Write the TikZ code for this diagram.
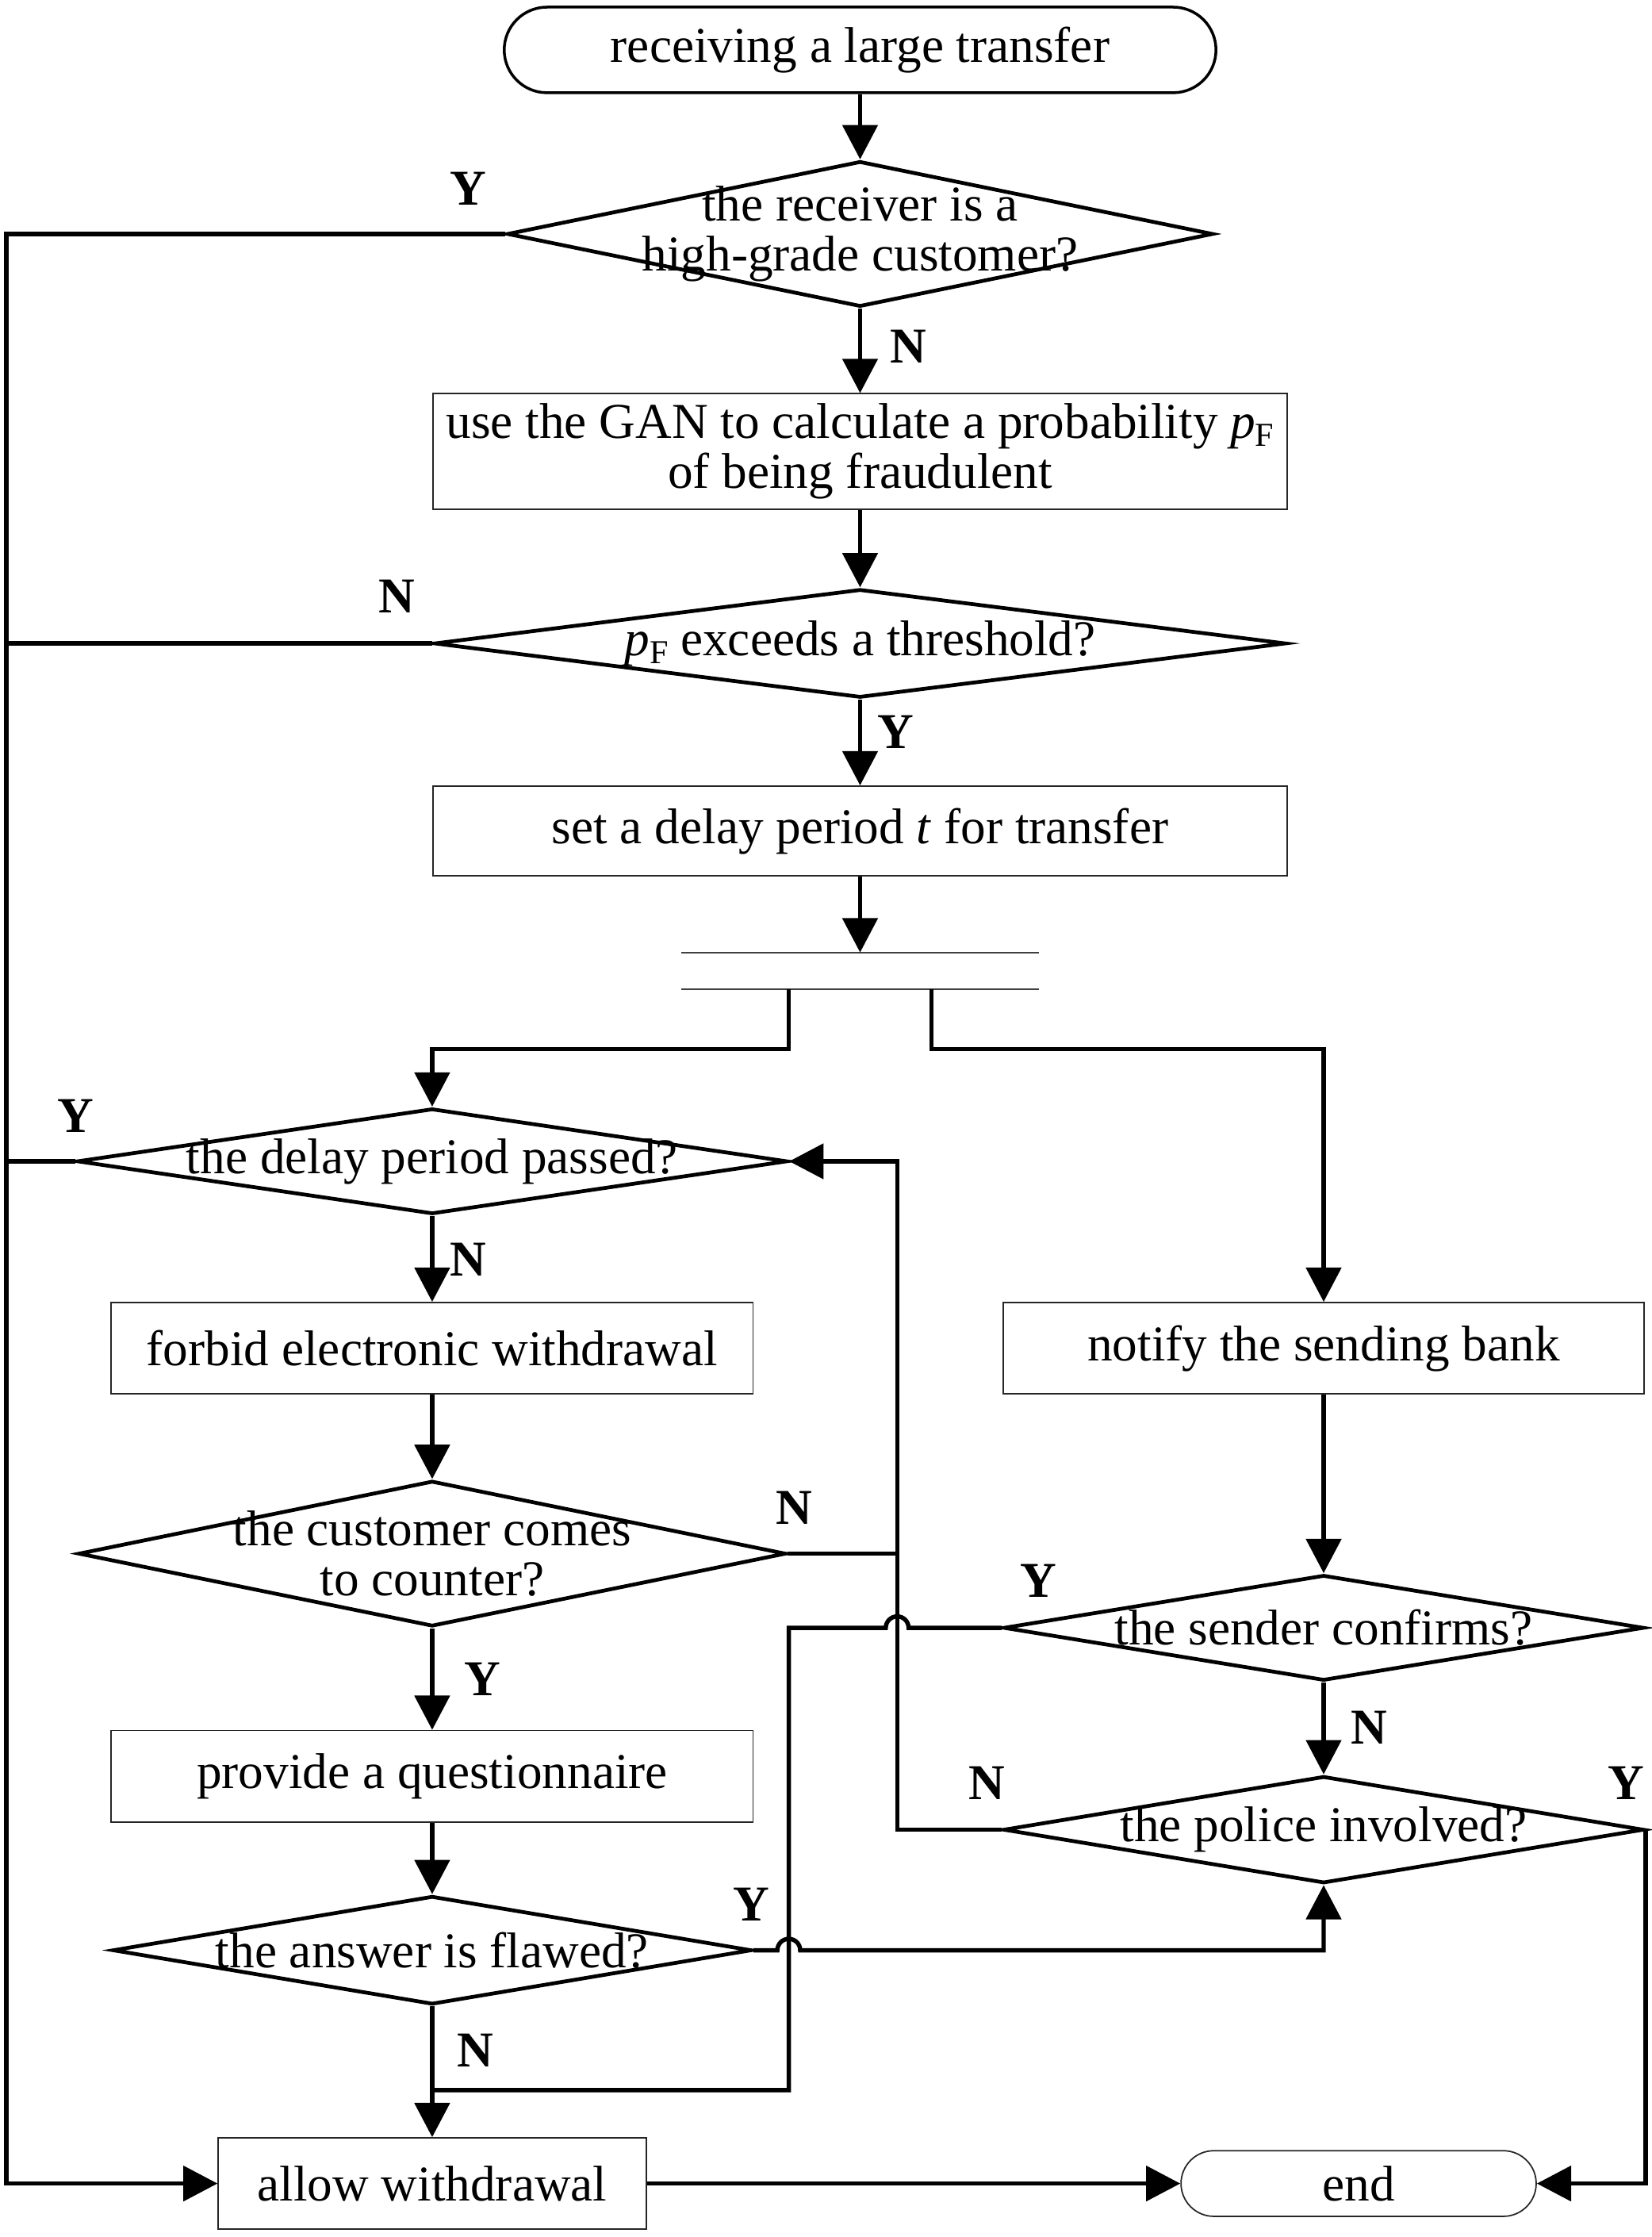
\documentclass[tikz,border=0pt]{standalone}
\usepackage{fontspec}
\setmainfont{Liberation Serif}
\usetikzlibrary{shapes.geometric,shapes.misc,arrows.meta,calc}
\def\U{0.017988cm}
\newcommand{\pF}{\textit{p}\raisebox{-0.35ex}{\fontsize{12}{12}\selectfont F}}
\tikzset{
  every node/.style={font=\fontsize{18}{18}\selectfont},
  sz/.style 2 args={minimum width=#1*\U, minimum height=#2*\U},
  dia/.style={draw, shape=diamond, line width=1.35pt, inner sep=0pt},
  proc/.style={draw=black!85, line width=0.5pt, rectangle, inner sep=0pt, align=center},
  term/.style={draw, rounded rectangle, inner sep=0pt},
  txt/.style={inner sep=0pt, align=center},
  conn/.style={line width=1.55pt},
  arr/.style={conn, -{Triangle[length=12.3pt,width=12.5pt]}},
  lab/.style={font=\fontsize{18}{18}\selectfont\bfseries, inner sep=0pt},
  bar/.style={draw=black!75, line width=0.5pt},
}
\begin{document}
\begin{tikzpicture}[x=0.017988cm, y=-0.017988cm]
\useasboundingbox (0,0) rectangle (1158,1568);

% top column
\node[term, line width=1pt, sz={499}{60}] (start) at (603,35) {receiving a large transfer};
\node[dia, sz={495}{102}] (d1) at (603,164) {};
\node[txt] (t1) at (d1) {the receiver is a\\high-grade customer?};
\node[proc, sz={599}{81}] (b1) at (603,316.5) {use the GAN to calculate a probability \pF\\of being fraudulent};
\node[dia, sz={597}{76}] (d2) at (603,451) {};
\node[txt] (t2) at (d2) {\pF{} exceeds a threshold?};
\node[proc, sz={599}{63}] (b2) at (603,582.5) {set a delay period \textit{t} for transfer};
\node[inner sep=0pt, sz={250}{25}] (fork) at (603,680.5) {};
\draw[bar] (fork.north west) -- (fork.north east);
\draw[bar] (fork.south west) -- (fork.south east);

% left column
\node[dia, sz={498}{74}] (d3) at (303,814) {};
\node[txt] (t3) at (d3) {the delay period passed?};
\node[proc, sz={450}{64}] (b3) at (303,945) {forbid electronic withdrawal};
\node[dia, sz={496}{102}] (d4) at (303,1089) {};
\node[txt] (t4) at (d4) {the customer comes\\to counter?};
\node[proc, sz={450}{64}] (b4) at (303,1245) {provide a questionnaire};
\node[dia, sz={448}{76}] (d5) at (303,1367) {};
\node[txt] (t5) at (d5) {the answer is flawed?};
\node[proc, sz={300}{64}] (allow) at (303,1530.5) {allow withdrawal};

% right column
\node[proc, sz={449}{64}] (nb) at (928,945) {notify the sending bank};
\node[dia, sz={449}{74}] (d6) at (928,1141) {};
\node[txt] (t6) at (d6) {the sender confirms?};
\node[dia, sz={449}{75}] (d7) at (928,1282.5) {};
\node[txt] (t7) at (d7) {the police involved?};
\node[term, line width=0.5pt, draw=black!85, sz={249}{46}] (fin) at (952.5,1530.5) {end};

% rails and junctions
\coordinate (L) at (4.5,0);
\coordinate (R) at (629,0);
\coordinate (S) at (553,0);
\coordinate (J) at (303,1465);
\coordinate (hop1) at (629,1141);
\coordinate (hop2) at (553,1367);

% straight arrows
\draw[arr] (start.south) -- (d1.north);
\draw[arr] (d1.south) -- (b1.north);
\draw[arr] (b1.south) -- (d2.north);
\draw[arr] (d2.south) -- (b2.north);
\draw[arr] (b2.south) -- (fork.north);
\draw[arr] ($(fork.south)+(-50,0)$) -- ++(0,42) -| (d3.north);
\draw[arr] ($(fork.south)+(50,0)$) -- ++(0,42) -| (nb.north);
\draw[arr] (d3.south) -- (b3.north);
\draw[arr] (b3.south) -- (d4.north);
\draw[arr] (d4.south) -- (b4.north);
\draw[arr] (b4.south) -- (d5.north);
\draw[arr] (d5.south) -- (allow.north);
\draw[arr] (nb.south) -- (d6.north);
\draw[arr] (d6.south) -- (d7.north);
\draw[arr] (allow.east) -- (fin.west);

% left rail
\draw[arr] (d1.west) -- (d1.west -| L) |- (allow.west);
\draw[conn] (d2.west) -- (d2.west -| L);
\draw[conn] (d3.west) -- (d3.west -| L);

% loop back to delay check
\draw[arr] (d7.west) -- (d7.west -| R) -- (d3.east -| R) -- (d3.east);
\draw[conn] (d4.east) -- (d4.east -| R);

% sender confirms -> allow
\draw[conn] (d6.west) -- ([xshift=0.144cm]hop1) arc[start angle=0, end angle=180, radius=0.144cm] -- (d6.west -| S) |- (J);

% answer flawed -> police
\draw[arr] (d5.east) -- ([xshift=-0.144cm]hop2) arc[start angle=180, end angle=0, radius=0.144cm] -| (d7.south);

% police -> end
\draw[arr] (d7.east) |- (fin.east);

% labels
\node[lab] (l1) at (328,132) {Y};
\node[lab] (l2) at (637,243) {N};
\node[lab] (l3) at (278,418) {N};
\node[lab] (l4) at (628,513) {Y};
\node[lab] (l5) at (53,782) {Y};
\node[lab] (l6) at (328,883) {N};
\node[lab] (l7) at (557,1057) {N};
\node[lab] (l8) at (338,1177) {Y};
\node[lab] (l9) at (728,1108) {Y};
\node[lab] (l10) at (960,1211) {N};
\node[lab] (l11) at (692,1250) {N};
\node[lab] (l12) at (1140,1250) {Y};
\node[lab] (l13) at (527,1335) {Y};
\node[lab] (l14) at (333,1437) {N};
\end{tikzpicture}
\end{document}
